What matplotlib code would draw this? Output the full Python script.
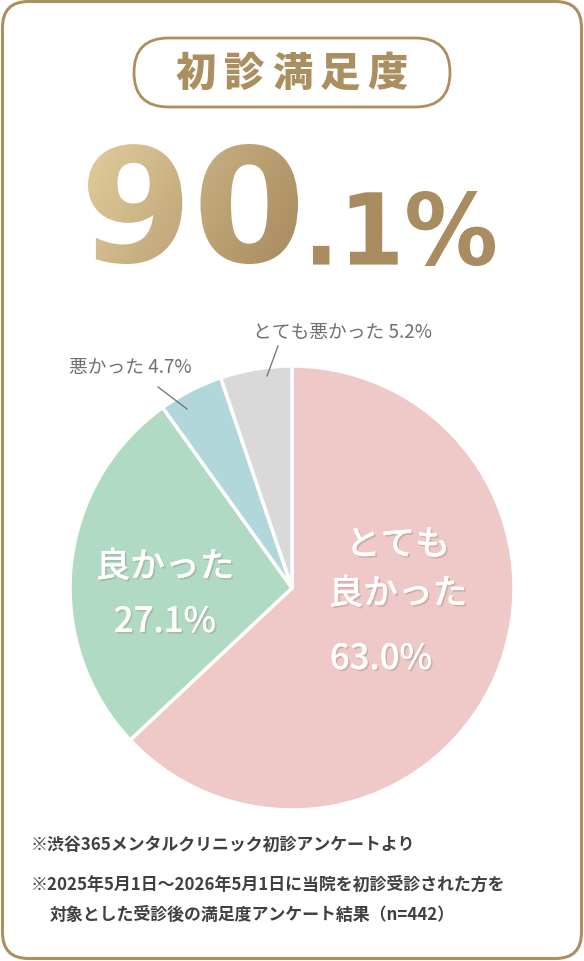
import numpy as np
import matplotlib
matplotlib.use('Agg')
import matplotlib.pyplot as plt
from matplotlib.patches import FancyBboxPatch, PathPatch
from matplotlib.textpath import TextPath
from matplotlib.font_manager import FontProperties
from matplotlib.transforms import Affine2D
from matplotlib.colors import LinearSegmentedColormap
import matplotlib.patheffects as pe

plt.rcParams['font.family'] = ['Noto Sans CJK JP', 'DejaVu Sans']

# data
title = '初診満足度'
headline_main = '90'
headline_sub = '.1%'
categories = ['とても良かった', '良かった', '悪かった', 'とても悪かった']
values = [63.0, 27.1, 4.7, 5.2]
colors = ['#efc8c8', '#b1dac5', '#b2d7da', '#d9d9d9']
notes = ['※渋谷365メンタルクリニック初診アンケートより',
         '※2025年5月1日～2026年5月1日に当院を初診受診された方を',
         '対象とした受診後の満足度アンケート結果（n=442）']

GOLD = '#ab8f61'
W, H = 584, 962

fig = plt.figure(figsize=(W / 100, H / 100), dpi=100)
fig.patch.set_facecolor('white')

# pie (drawn underneath the overlay axes)
cx, cy, r = 292, 589, 222
pax = fig.add_axes([(cx - r) / W, 1 - (cy + r) / H, 2 * r / W, 2 * r / H])
pax.pie(values, colors=colors, startangle=90, counterclock=False,
        wedgeprops=dict(edgecolor='white', linewidth=2.5))
pax.set_xlim(-1, 1)
pax.set_ylim(-1, 1)
pax.axis('off')

# overlay axes in pixel coordinates
ax = fig.add_axes([0, 0, 1, 1])
ax.set_zorder(5)
ax.set_xlim(0, W)
ax.set_ylim(H, 0)
ax.axis('off')

# card border
ax.add_patch(FancyBboxPatch((2.5, 2.5), W - 5, H - 5,
                            boxstyle='round,pad=0,rounding_size=26',
                            facecolor='none', edgecolor=GOLD, linewidth=2.2))

# title pill
ax.add_patch(FancyBboxPatch((134, 39), 316, 69,
                            boxstyle='round,pad=0,rounding_size=34.5',
                            facecolor='white', edgecolor=GOLD, linewidth=2.0))
for i, ch in enumerate(title):
    ax.text(196 + i * 48, 74, ch, fontsize=29, fontweight='heavy', color=GOLD,
            ha='center', va='center')


# big number with gradient fill
def fitted_path(s, box, prop):
    p = TextPath((0, 0), s, prop=prop, size=100)
    ext = p.get_extents()
    x0, y0, x1, y1 = box
    tr = (Affine2D().translate(-ext.x0, -ext.y0)
          .scale((x1 - x0) / ext.width, -(y1 - y0) / ext.height)
          .translate(x0, y1))
    return tr.transform_path(p)


heavy = FontProperties(family='DejaVu Sans', weight='bold')
grad = LinearSegmentedColormap.from_list('g', ['#e0cc9c', '#c4aa7c', '#a98c5f'])
gx = np.linspace(0, 1, 300)
gy = np.linspace(0, 1, 100)
gimg = np.clip(gx[None, :] * 1.5 + gy[:, None] * 0.25, 0, 1)

for s, box in [(headline_main, (88, 145, 298, 265)), (headline_sub, (313, 192, 495, 267))]:
    path = fitted_path(s, box, heavy)
    patch = PathPatch(path, facecolor='none', edgecolor='none')
    ax.add_patch(patch)
    im = ax.imshow(gimg, cmap=grad, extent=(88, 495, 267, 145), aspect='auto',
                   interpolation='bilinear', zorder=3)
    im.set_clip_path(patch)
ax.set_xlim(0, W)
ax.set_ylim(H, 0)

shadow = [pe.withSimplePatchShadow(offset=(1.2, -1.2), shadow_rgbFace='#8a7070', alpha=0.3),
          pe.Normal()]
inside = dict(color='white', fontsize=25, fontweight='medium', ha='center', va='center',
              path_effects=shadow)
ax.text(398, 546, 'とても', **inside)
ax.text(398, 595, '良かった', **inside)
ax.text(381, 660, f'{values[0]:.1f}%', **inside)
ax.text(165, 568, '良かった', **inside)
ax.text(165, 623, f'{values[1]:.1f}%', **inside)

outside = dict(color='#707070', fontsize=13.5, ha='left', va='center')
ax.text(69, 368, f'悪かった {values[2]:.1f}%', **outside)
ax.text(253, 333, f'とても悪かった {values[3]:.1f}%', **outside)
ax.plot([158, 187], [388, 410], color='#707070', linewidth=0.9)
ax.plot([278, 267], [347, 377], color='#707070', linewidth=0.9)

# footnotes
note_style = dict(color='#404040', fontsize=12.2, ha='left', va='center', fontweight='bold')
ax.text(31, 845, notes[0], **note_style)
ax.text(31, 885, notes[1], **note_style)
ax.text(50, 915, notes[2], **note_style)

fig.savefig('out.png', dpi=100, facecolor='white')
